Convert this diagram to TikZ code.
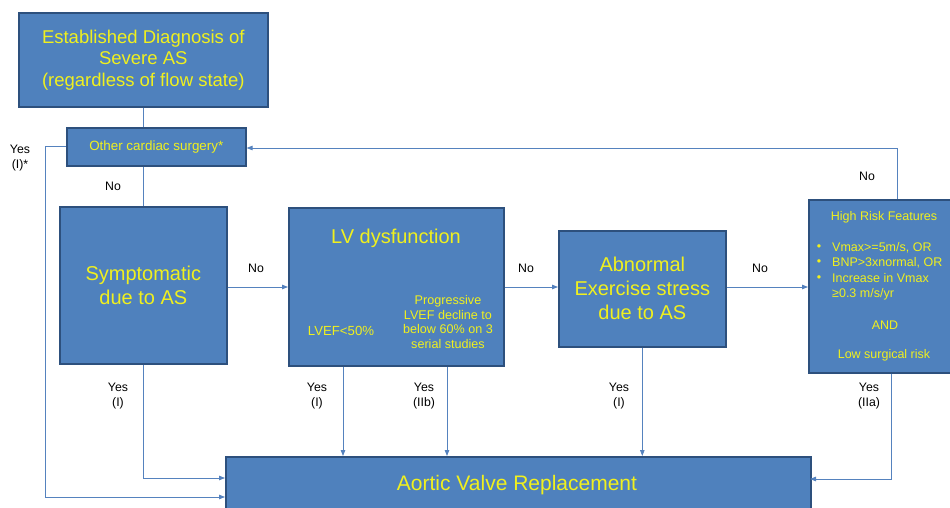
\documentclass[tikz,border=0pt]{standalone}
\usepackage{fontspec}
\setmainfont{Liberation Sans}
\usetikzlibrary{arrows.meta,calc}
\definecolor{boxfill}{RGB}{79,129,189}
\definecolor{boxedge}{RGB}{45,80,125}
\definecolor{txtyel}{RGB}{240,240,30}
\definecolor{lnblue}{RGB}{85,130,190}
\tikzset{
  box/.style={draw=boxedge, line width=1.6pt, fill=boxfill, text=txtyel, align=center, inner sep=0pt},
  conn/.style={draw=lnblue, line width=0.8pt},
  arr/.style={conn, -{Triangle[length=6pt,width=4.5pt]}},
  lbl/.style={font=\fontsize{12.3}{14.3}\selectfont, text=black, align=center, inner sep=0pt},
  big/.style={font=\fontsize{18.5}{22}\selectfont},
  sml/.style={font=\fontsize{12.5}{15}\selectfont, text=txtyel, inner sep=0pt}
}
\begin{document}
\begin{tikzpicture}[x=1pt,y=-1pt]
\useasboundingbox (0,0) rectangle (950,507);
\begin{scope}
\clip (0,0) rectangle (950,507);
% boxes
\node[box, big, minimum width=249pt, minimum height=94pt, anchor=north west] (top) at (18,12)
  {Established Diagnosis of\\[-0.5pt]Severe AS\\[-0.5pt](regardless of flow state)};
\node[box, font=\fontsize{13.4}{15}\selectfont, minimum width=179pt, minimum height=38pt, anchor=north west] (other) at (66,127)
  {Other cardiac surgery*};
\node[box, font=\fontsize{20}{24}\selectfont, minimum width=167pt, minimum height=157pt, anchor=north west] (sym) at (59,206)
  {Symptomatic\\due to AS};
\node[box, minimum width=215pt, minimum height=158pt, anchor=north west] (lv) at (288,207) {};
\node[box, font=\fontsize{20}{24}\selectfont, minimum width=167pt, minimum height=116pt, anchor=north west] (abn) at (558,230)
  {Abnormal\\Exercise stress\\due to AS};
\node[box, minimum width=170pt, minimum height=173pt, anchor=north west] (hr) at (808,199) {};
\node[box, minimum width=585pt, minimum height=60pt, anchor=north west] (avr) at (225,456) {};
\node[sml, font=\fontsize{21}{24}\selectfont, anchor=center] (avrt) at (517,485) {Aortic Valve Replacement};
% LV texts
\node[sml, font=\fontsize{20}{24}\selectfont] (lvt) at (396,238) {LV dysfunction};
\node[sml, font=\fontsize{13.2}{15}\selectfont] (lv1) at (341,331) {LVEF<50\%};
\node[sml, align=center, font=\fontsize{12.6}{14.6}\selectfont] (lv2) at (448,322)
  {Progressive\\LVEF decline to\\below 60\% on 3\\serial studies};
% high risk texts
\node[sml] (hrt) at (884,217) {High Risk Features};
\node[sml, anchor=west] (b1) at (832,248) {Vmax>=5m/s, OR};
\node[sml, anchor=west] (b2) at (832,263) {BNP>3xnormal, OR};
\node[sml, anchor=west] (b3) at (832,278.5) {Increase in Vmax};
\node[sml, anchor=west] (b4) at (832,294) {≥0.3 m/s/yr};
\node[sml] (d1) at (819,248) {•};
\node[sml] (d2) at (819,263) {•};
\node[sml] (d3) at (819,278.5) {•};
\node[sml] (hand) at (885,325) {AND};
\node[sml] (hlow) at (884,355) {Low surgical risk};
\end{scope}
% coordinates
\coordinate (lfa) at (45,497);
\coordinate (sya) at (225,478);
\coordinate (hra) at (810,479);
\coordinate (hrtop) at (897,148);
% connectors
\draw[conn] (top.south) -- (top.south |- other.north);
\draw[conn] (top.south |- other.south) -- (sym.north);
\draw[conn] (other.west) -| (lfa);
\draw[arr] (lfa) -- (lfa -| avr.west);
\draw[arr] (sym.east |- 0,287) -- (lv.west |- 0,287);
\draw[arr] (lv.east |- 0,287) -- (abn.west |- 0,287);
\draw[arr] (abn.east |- 0,287) -- (hr.west |- 0,287);
\draw[conn] (hr.north -| hrtop) -- (hrtop);
\draw[arr] (hrtop) -- (hrtop -| other.east);
\draw[arr] (sym.south) |- (sya);
\draw[arr] ([xshift=55pt]lv.south west) -- ([xshift=55pt]lv.south west |- avr.north);
\draw[arr] ([xshift=159pt]lv.south west) -- ([xshift=159pt]lv.south west |- avr.north);
\draw[arr] (abn.south) -- (abn.south |- avr.north);
\draw[arr] ([xshift=83pt]hr.south west) |- (hra);
% labels
\node[lbl] (l1) at (20,158) {Yes\\(I)*};
\node[lbl] (l2) at (113,186) {No};
\node[lbl] (l3) at (256,268) {No};
\node[lbl] (l4) at (526,268) {No};
\node[lbl] (l5) at (760,268) {No};
\node[lbl] (l6) at (867,176) {No};
\node[lbl] (y1) at (118,396) {Yes\\(I)};
\node[lbl] (y2) at (317,396) {Yes\\(I)};
\node[lbl] (y3) at (424,396) {Yes\\(IIb)};
\node[lbl] (y4) at (619,396) {Yes\\(I)};
\node[lbl] (y5) at (869,396) {Yes\\(IIa)};
\end{tikzpicture}
\end{document}
